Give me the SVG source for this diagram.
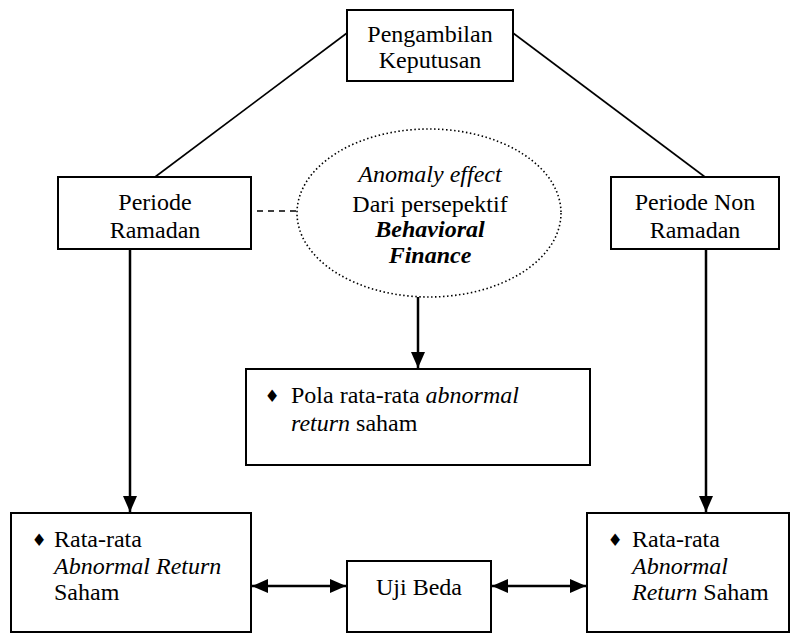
<svg xmlns="http://www.w3.org/2000/svg" width="791" height="633" viewBox="0 0 791 633">
<style>
.box{fill:#fff;stroke:#000;stroke-width:2}
.t{font-family:"Liberation Serif","Times New Roman",serif;font-size:24px;fill:#000}
.c{text-anchor:middle}
.i{font-style:italic}
.bi{font-style:italic;font-weight:bold}
.bul{font-family:"DejaVu Sans",sans-serif;font-size:17px;fill:#000;text-anchor:middle}
.ln{stroke:#000;stroke-width:1.6;fill:none}
.ar{stroke:#000;stroke-width:2.5;fill:none}
</style>
<defs>
<marker id="ah" viewBox="0 0 16 14" refX="16" refY="7" markerWidth="16" markerHeight="14" markerUnits="userSpaceOnUse" orient="auto-start-reverse">
<path d="M0,0 L16,7 L0,14 Z" fill="#000"/>
</marker>
</defs>
<g id="connectors">
<line class="ln" x1="155" y1="177" x2="347" y2="33"/>
<line class="ln" x1="513" y1="33" x2="705" y2="177"/>
<line class="ln" x1="235" y1="211" x2="308" y2="211" stroke-dasharray="6,5"/>
<line class="ar" x1="130" y1="249" x2="130" y2="512" marker-end="url(#ah)"/>
<line class="ar" x1="706" y1="249" x2="706" y2="512" marker-end="url(#ah)"/>
<line class="ar" x1="418" y1="297" x2="418" y2="368" marker-end="url(#ah)"/>
<line class="ar" x1="252" y1="586" x2="346" y2="586" marker-start="url(#ah)" marker-end="url(#ah)"/>
<line class="ar" x1="492" y1="586" x2="586" y2="586" marker-start="url(#ah)" marker-end="url(#ah)"/>
</g>
<g id="keputusan">
<rect class="box" x="347" y="10" width="166" height="71"/>
<text class="t c" x="430" y="42">Pengambilan</text>
<text class="t c" x="430" y="68">Keputusan</text>
</g>
<g id="ramadan">
<rect class="box" x="58" y="177" width="193" height="72"/>
<text class="t c" x="155" y="210">Periode</text>
<text class="t c" x="155" y="238">Ramadan</text>
</g>
<g id="nonramadan">
<rect class="box" x="611" y="177" width="168" height="72"/>
<text class="t c" x="695" y="210">Periode Non</text>
<text class="t c" x="695" y="238">Ramadan</text>
</g>
<g id="anomaly">
<ellipse cx="429" cy="213" rx="132" ry="84" fill="#fff" stroke="#000" stroke-width="1.6" stroke-dasharray="1.5,2.5"/>
<text class="t c i" x="430" y="182">Anomaly effect</text>
<text class="t c" x="430" y="212">Dari persepektif</text>
<text class="t c bi" x="430" y="237">Behavioral</text>
<text class="t c bi" x="430" y="263">Finance</text>
</g>
<g id="pola">
<rect class="box" x="246" y="369" width="344" height="96"/>
<text class="bul" x="272" y="402">♦</text>
<text class="t" x="291" y="403">Pola rata-rata <tspan class="i">abnormal</tspan></text>
<text class="t" x="291" y="431"><tspan class="i">return</tspan> saham</text>
</g>
<g id="ar-ramadan">
<rect class="box" x="11" y="513" width="240" height="119"/>
<text class="bul" x="39" y="546">♦</text>
<text class="t" x="54" y="547">Rata-rata</text>
<text class="t i" x="54" y="574">Abnormal Return</text>
<text class="t" x="54" y="600">Saham</text>
</g>
<g id="ujibeda">
<rect class="box" x="347" y="561" width="144" height="71"/>
<text class="t c" x="419" y="595">Uji Beda</text>
</g>
<g id="ar-nonramadan">
<rect class="box" x="587" y="513" width="202" height="119"/>
<text class="bul" x="615" y="546">♦</text>
<text class="t" x="632" y="547">Rata-rata</text>
<text class="t i" x="632" y="574">Abnormal</text>
<text class="t" x="632" y="600"><tspan class="i">Return</tspan> Saham</text>
</g>
</svg>
